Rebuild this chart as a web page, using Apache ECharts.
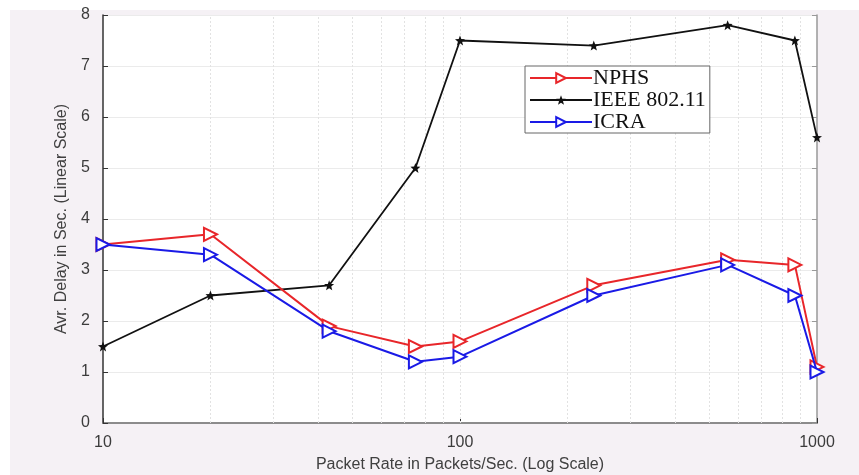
<!DOCTYPE html>
<html><head><meta charset="utf-8">
<script src="https://cdn.jsdelivr.net/npm/echarts@6/dist/echarts.min.js"></script>
<style>html,body{margin:0;padding:0;background:#fff}#c{width:859px;height:475px}</style>
</head><body><div id="c"></div>
<script>
const packetRates = [10, 20, 43, 75, 100, 237, 562, 867, 1000];
const nphs = [3.5, 3.7, 1.9, 1.5, 1.6, 2.7, 3.2, 3.1, 1.1];
const ieee = [1.5, 2.5, 2.7, 5.0, 7.5, 7.4, 7.8, 7.5, 5.6];
const icra = [3.5, 3.3, 1.8, 1.2, 1.3, 2.5, 3.1, 2.5, 1.0];
const seriesNames = ['NPHS', 'IEEE 802.11', 'ICRA'];
const minorGridX = [20,30,40,50,60,70,80,90,100,200,300,400,500,600,700,800,900];
const xAxisName = 'Packet Rate in Packets/Sec. (Log Scale)';
const yAxisName = 'Avr. Delay in Sec. (Linear Scale)';

const pair = (xs, ys) => xs.map((x, i) => [x, ys[i]]);
const star = 'path://M0,-10 L2.5,-3.5 L9.5,-3.1 L4,1.2 L5.9,8.1 L0,4.2 L-5.9,8.1 L-4,1.2 L-9.5,-3.1 L-2.5,-3.5 Z';

const chart = echarts.init(document.getElementById('c'), null, {renderer: 'canvas'});
const lab = {fontFamily: 'Liberation Sans, Arial', fontSize: 16, color: '#3c3c3c'};
chart.setOption({
  backgroundColor: '#ffffff',
  animation: false,
  graphic: [{type: 'rect', shape: {x: 10, y: 10, width: 849, height: 465}, style: {fill: '#f5f1f5'}, z: -10, silent: true}],
  grid: {left: 103, right: 42, top: 15, bottom: 52, show: true, backgroundColor: '#ffffff', borderWidth: 0,
         containLabel: false, outerBoundsMode: 'none'},
  legend: {
    left: 525, top: 66, orient: 'vertical', itemGap: 0, z: 20, zlevel: 0,
    itemWidth: 62, itemHeight: 12,
    backgroundColor: '#ffffff', borderColor: '#666', borderWidth: 1,
    padding: [1, 4, 0, 4],
    textStyle: {fontFamily: 'Liberation Serif, Times New Roman', fontSize: 22, lineHeight: 20, color: '#111', padding: [0, 0, 0, -4]},
    data: seriesNames
  },
  xAxis: [{
    type: 'log', logBase: 10, min: 10, max: 1000,
    name: xAxisName, nameLocation: 'middle', nameGap: 34,
    nameTextStyle: {fontFamily: 'Liberation Sans, Arial', fontSize: 16, color: '#404040'},
    axisLine: {lineStyle: {color: '#333', width: 1.5}},
    axisTick: {inside: true, length: 5, lineStyle: {color: '#333'}},
    axisLabel: Object.assign({margin: 12, formatter: v => String(v)}, lab),
    splitLine: {show: false}
  }, {
    type: 'log', logBase: 10, min: 10, max: 1000, position: 'top',
    axisLine: {show: true, lineStyle: {color: '#999', width: 1.5}},
    axisTick: {show: false}, axisLabel: {show: false}, splitLine: {show: false}
  }],
  yAxis: [{
    type: 'value', min: 0, max: 8, interval: 1,
    name: yAxisName, nameLocation: 'middle', nameGap: 33,
    nameTextStyle: {fontFamily: 'Liberation Sans, Arial', fontSize: 16, color: '#404040'},
    axisLine: {show: true, lineStyle: {color: '#333', width: 1.5}},
    axisTick: {show: true, inside: true, length: 5, lineStyle: {color: '#333'}},
    axisLabel: Object.assign({margin: 13}, lab),
    splitLine: {show: true, lineStyle: {color: '#ebebeb', width: 1}}
  }, {
    type: 'value', min: 0, max: 8, interval: 1, position: 'right',
    axisLine: {show: true, lineStyle: {color: '#999', width: 1.5}},
    axisTick: {show: true, inside: true, length: 5, lineStyle: {color: '#999'}},
    axisLabel: {show: false}, splitLine: {show: false}
  }],
  series: [
    {
      name: 'grid', type: 'line', data: [], silent: true, z: 1,
      markLine: {
        silent: true, symbol: 'none', label: {show: false}, z: 1,
        lineStyle: {color: '#e2e2e2', type: [2, 2], width: 1},
        data: minorGridX.map(v => ({xAxis: v}))
      }
    },
    {
      name: seriesNames[1], type: 'line', data: pair(packetRates, ieee),
      color: '#111111', lineStyle: {width: 1.8, color: '#111111'},
      symbol: star, symbolSize: 10, itemStyle: {color: '#111111'}, z: 3
    },
    {
      name: seriesNames[0], type: 'line', data: pair(packetRates, nphs),
      color: '#e8262a', lineStyle: {width: 2, color: '#e8262a'},
      symbol: 'emptyTriangle', symbolRotate: -90, symbolSize: 13,
      itemStyle: {color: '#e8262a', borderWidth: 1.8}, z: 4
    },
    {
      name: seriesNames[2], type: 'line', data: pair(packetRates, icra),
      color: '#1a1ae6', lineStyle: {width: 2, color: '#1a1ae6'},
      symbol: 'emptyTriangle', symbolRotate: -90, symbolSize: 13,
      itemStyle: {color: '#1a1ae6', borderWidth: 1.8}, z: 5
    }
  ]
});
</script></body></html>
